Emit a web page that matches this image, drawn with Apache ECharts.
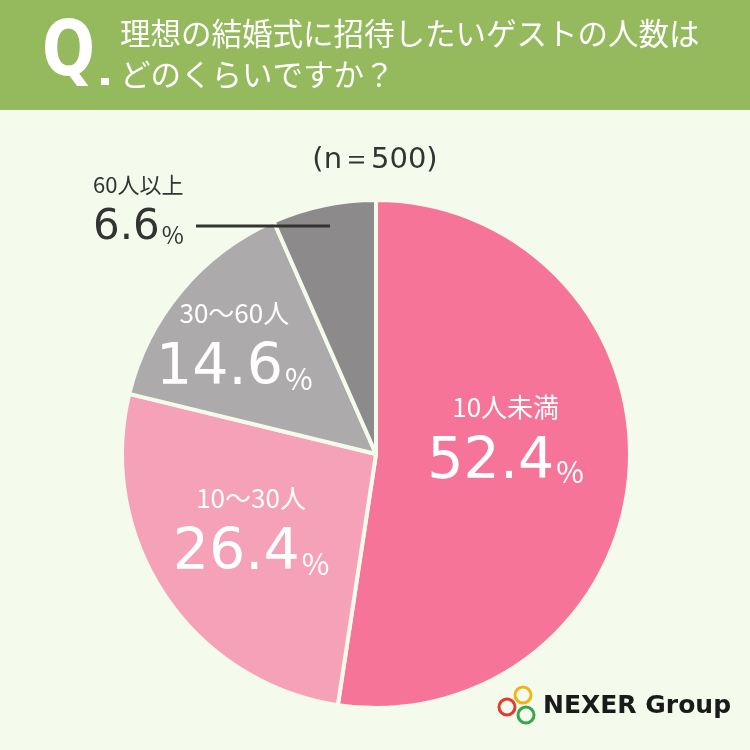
<!DOCTYPE html>
<html>
<head>
<meta charset="utf-8">
<script src="https://cdn.jsdelivr.net/npm/echarts@6/dist/echarts.min.js"></script>
<style>
  html, body { margin: 0; padding: 0; background: #f4fbec; }
  #chart { width: 750px; height: 750px; }
</style>
</head>
<body>
<div id="chart"></div>
<script>
// データ
var categories = ['10人未満', '10〜30人', '30〜60人', '60人以上'];
var values = [52.4, 26.4, 14.6, 6.6];
var colors = ['#f77499', '#f5a2b9', '#adaaab', '#8d8a8b'];
var sampleText = '(n＝500)';
var question = ['理想の結婚式に招待したいゲストの人数は', 'どのくらいですか？'];

var font = '"Noto Sans CJK JP", "Noto Sans", sans-serif';
var numFont = '"DejaVu Sans", "Noto Sans", sans-serif';

// ラベルのずらし量（中心からの調整）
var shift = [[0, -24], [-17, 5], [-42, -24]];

var chart = echarts.init(document.getElementById('chart'));

var pieData = categories.map(function (name, i) {
  var item = { name: name, value: values[i], itemStyle: { color: colors[i] } };
  if (i === 3) {
    // 60人以上は外側ラベル
    item.label = {
      position: 'outside',
      formatter: '{n|{b}}\n{v|{c}}{p|%}',
      rich: {
        n: { fontSize: 22, color: '#333', lineHeight: 30, fontFamily: font },
        v: { fontSize: 42, color: '#333', lineHeight: 56, fontFamily: numFont },
        p: { fontSize: 24, color: '#333', lineHeight: 56, fontFamily: font, padding: [14, 0, 0, 2] }
      }
    };
    item.labelLine = { show: false };
  }
  return item;
});

var option = {
  backgroundColor: '#f4fbec',
  animation: false,
  graphic: [
    { type: 'rect', shape: { x: 0, y: 0, width: 750, height: 110 }, style: { fill: '#95b95d' }, z: 0 },
    { type: 'text', x: 42, y: 17, scaleX: 0.82, style: { text: 'Q', fontSize: 76, fontWeight: 'bold', fontFamily: '"DejaVu Sans", sans-serif', fill: '#fff' } },
    { type: 'rect', shape: { x: 101, y: 78, width: 8, height: 7 }, style: { fill: '#fff' } },
    { type: 'text', left: 120, top: 13, style: { text: question.join('\n'), fontSize: 30.5, lineHeight: 41, fontFamily: font, fill: '#fff' } },
    { type: 'text', left: 'center', top: 146, style: { text: sampleText, fontSize: 29, fontFamily: numFont, fill: '#333' } },
    // 60人以上の引き出し線
    { type: 'line', shape: { x1: 196, y1: 226, x2: 330, y2: 226 }, style: { stroke: '#333', lineWidth: 3 }, z: 100 },
    // ロゴ
    { type: 'circle', shape: { cx: 523, cy: 695, r: 8 }, style: { fill: 'none', stroke: '#f2b319', lineWidth: 3 } },
    { type: 'circle', shape: { cx: 507, cy: 707, r: 8 }, style: { fill: 'none', stroke: '#e23b2e', lineWidth: 3 } },
    { type: 'circle', shape: { cx: 526, cy: 715, r: 8 }, style: { fill: 'none', stroke: '#3aa64b', lineWidth: 3 } },
    { type: 'text', left: 543, top: 694, style: { text: 'NEXER Group', fontSize: 25, fontWeight: 'bold', fontFamily: '"DejaVu Sans", sans-serif', fill: '#1a1a1a' } }
  ],
  series: [{
    type: 'pie',
    center: [376, 454],
    radius: [0, 254],
    startAngle: 90,
    clockwise: true,
    itemStyle: { borderColor: '#f4fbec', borderWidth: 4 },
    label: {
      position: 'inside',
      formatter: '{n|{b}}\n{v|{c}}{p|%}',
      rich: {
        n: { fontSize: 26, color: '#fff', lineHeight: 46, fontFamily: font },
        v: { fontSize: 57, color: '#fff', lineHeight: 66, fontFamily: numFont },
        p: { fontSize: 30, color: '#fff', lineHeight: 66, fontFamily: font, padding: [18, 0, 0, 2] }
      }
    },
    labelLine: { show: false },
    labelLayout: function (params) {
      var i = params.dataIndex;
      if (i === 3) {
        return { x: 93, y: 170, align: 'left', verticalAlign: 'top' };
      }
      return { dx: shift[i][0], dy: shift[i][1] };
    },
    emphasis: { disabled: true },
    data: pieData
  }]
};

chart.setOption(option);
</script>
</body>
</html>
